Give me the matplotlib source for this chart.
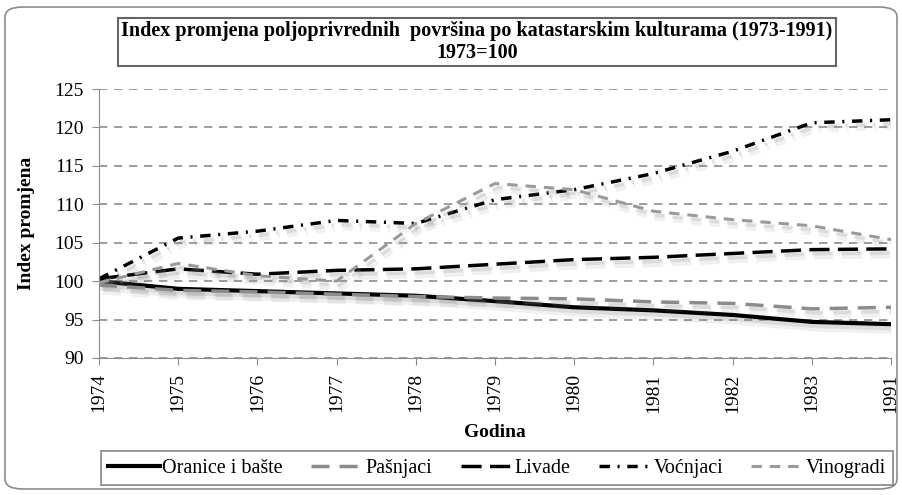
import numpy as np
import matplotlib.pyplot as plt
import matplotlib.patheffects as pe
from matplotlib.patches import FancyBboxPatch
from matplotlib.lines import Line2D

# Podaci (procijenjeno sa slike)
godine = ['1974', '1975', '1976', '1977', '1978', '1979', '1980', '1981', '1982', '1983', '1991']
oranice = [100.0, 99.0, 98.7, 98.4, 98.1, 97.4, 96.6, 96.2, 95.6, 94.7, 94.4]
pasnjaci = [99.5, 98.8, 98.6, 98.3, 98.0, 97.8, 97.7, 97.3, 97.1, 96.4, 96.6]
livade = [100.3, 101.6, 100.9, 101.4, 101.6, 102.2, 102.8, 103.1, 103.6, 104.1, 104.2]
vocnjaci = [100.3, 105.6, 106.5, 107.9, 107.5, 110.6, 111.9, 114.0, 116.9, 120.6, 121.0]
vinogradi = [99.8, 102.3, 100.7, 100.0, 107.5, 112.7, 111.9, 109.1, 108.0, 107.2, 105.4]

nazivi = ['Oranice i bašte', 'Pašnjaci', 'Livade', 'Voćnjaci', 'Vinogradi']
serije = [oranice, pasnjaci, livade, vocnjaci, vinogradi]
stilovi = [
    dict(color='black', lw=3, ls='-'),
    dict(color='#8c8c8c', lw=2.5, dashes=(5.2, 2.9)),
    dict(color='black', lw=2.5, dashes=(5.8, 2.4)),
    dict(color='black', lw=2.5, dashes=(3, 2.2, 0.6, 2.2)),
    dict(color='#9a9a9a', lw=2.2, dashes=(3.4, 2.6)),
]

plt.rcParams['font.family'] = ['Liberation Serif', 'DejaVu Serif']

fig = plt.figure(figsize=(9.03, 4.95), dpi=100)
ax = fig.add_axes([99 / 903, 1 - 358 / 495, (891 - 99) / 903, (358 - 89) / 495])

# Okvir oko cijelog grafikona
okvir = FancyBboxPatch((5 / 903, 6 / 495), 892 / 903, 482 / 495,
                       boxstyle='round,pad=0,rounding_size=0.02',
                       transform=fig.transFigure, fill=False,
                       edgecolor='#8c8c8c', linewidth=1.2)
fig.patches.append(okvir)

x = np.arange(len(godine))
sjena = [pe.SimpleLineShadow(offset=(3, -4), shadow_color='#888888', alpha=0.12, linewidth=6),
         pe.SimpleLineShadow(offset=(2, -3), shadow_color='#888888', alpha=0.2),
         pe.Normal()]

for y, st in zip(serije, stilovi):
    ax.plot(x, y, path_effects=sjena, **st)

ax.set_xlim(0, len(godine) - 1)
ax.set_ylim(90, 125)
ax.set_yticks(np.arange(90, 126, 5))
ax.set_xticks(x)
ax.set_xticklabels(godine, rotation=90, fontsize=14)
ax.tick_params(axis='y', labelsize=14, length=5, color='#8c8c8c', pad=6)
ax.tick_params(axis='x', length=5, color='#8c8c8c', pad=6)
ax.yaxis.grid(True, ls=(0, (5, 4)), color='#8c8c8c', lw=1.2)
ax.set_axisbelow(True)
for s in ['top', 'right']:
    ax.spines[s].set_visible(False)
for s in ['left', 'bottom']:
    ax.spines[s].set_color('#8c8c8c')

ax.set_ylabel('Index promjena', fontsize=14, fontweight='bold', labelpad=14)
ax.set_xlabel('Godina', fontsize=14, fontweight='bold', labelpad=8)

fig.text(477 / 903, 1 - 42 / 495,
         'Index promjena poljoprivrednih  površina po katastarskim kulturama (1973-1991)\n1973=100',
         ha='center', va='center', fontsize=14.5, fontweight='bold', linespacing=1.15,
         bbox=dict(boxstyle='square,pad=0.15', fc='white', ec='#666666', lw=1.5))

rucke = [Line2D([], [], **st) for st in stilovi]
leg = fig.legend(rucke, nazivi, loc='center', bbox_to_anchor=(497 / 903, 1 - 468 / 495), ncol=5,
                 fontsize=14.5, frameon=True, fancybox=False, edgecolor='#666666',
                 handlelength=2.6, handletextpad=0.1, columnspacing=1.4,
                 borderpad=0.35)
leg.get_frame().set_linewidth(1.2)

fig.savefig('out.png', dpi=100)
